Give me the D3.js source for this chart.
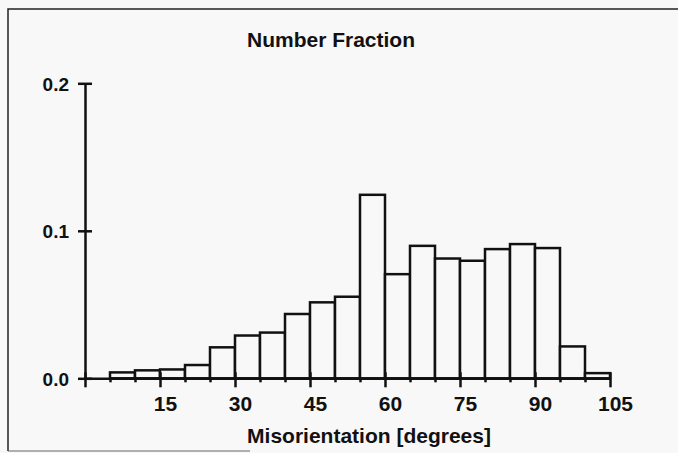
<!DOCTYPE html>
<html>
<head>
<meta charset="utf-8">
<script src="https://cdn.jsdelivr.net/npm/d3@7"></script>
<style>
  body { margin: 0; background: #f8f8f8; }
  text { font-family: "Liberation Sans", Arial, sans-serif; font-weight: bold; fill: #111; }
</style>
</head>
<body>
<div id="chart"></div>
<script>
// bin lower edges (degrees), each bin is 5 degrees wide
var binStarts = [0, 5, 10, 15, 20, 25, 30, 35, 40, 45, 50, 55, 60, 65, 70, 75, 80, 85, 90, 95, 100];
var binWidth = 5;
// number fraction per bin
var fractions = [0, 0.004, 0.0054, 0.006, 0.009, 0.021, 0.029, 0.031, 0.0436, 0.0515, 0.0553,
  0.1244, 0.0706, 0.0898, 0.0812, 0.0797, 0.0876, 0.091, 0.0883, 0.0216, 0.0035];
var xTicks = [0, 5, 10, 15, 20, 25, 30, 35, 40, 45, 50, 55, 60, 65, 70, 75, 80, 85, 90, 95, 100, 105];
var xLabels = [15, 30, 45, 60, 75, 90, 105];
var yTicks = [0, 0.1, 0.2];

var svg = d3.select("#chart").append("svg")
  .attr("width", 678)
  .attr("height", 453);

svg.append("rect")
  .attr("width", 678).attr("height", 453)
  .attr("fill", "#f8f8f8");

// frame round the picture
svg.append("path")
  .attr("d", "M8,451 L8,9 L678,9")
  .attr("fill", "none")
  .attr("stroke", "#222")
  .attr("stroke-width", 1.5);
svg.append("line")
  .attr("x1", 8).attr("x2", 250).attr("y1", 451).attr("y2", 451)
  .attr("stroke", "#666").attr("stroke-width", 1.2);

var x = d3.scaleLinear().domain([0, 105]).range([85, 610]);
var y = d3.scaleLinear().domain([0, 0.2]).range([378.3, 83.3]);

// bars
svg.append("g").selectAll("rect")
  .data(binStarts)
  .enter()
  .append("rect")
    .filter(function(d, i) { return fractions[i] > 0; })
    .attr("x", function(d) { return x(d); })
    .attr("width", function(d) { return x(d + binWidth) - x(d); })
    .attr("y", function(d, i) { return y(fractions[binStarts.indexOf(d)]); })
    .attr("height", function(d) { return y(0) - y(fractions[binStarts.indexOf(d)]); })
    .attr("fill", "#f8f8f8")
    .attr("stroke", "#111")
    .attr("stroke-width", 2.5);

// x axis
var xAxis = svg.append("g")
  .attr("transform", "translate(0," + y(0) + ")")
  .call(d3.axisBottom(x)
    .tickValues(xTicks)
    .tickSizeOuter(0)
    .tickFormat(function(d) { return xLabels.indexOf(d) >= 0 ? d : ""; }));
xAxis.select(".domain").attr("stroke", "#111").attr("stroke-width", 2.5);
xAxis.selectAll(".tick line")
  .attr("stroke", "#111")
  .attr("stroke-width", 2.5)
  .attr("y1", function(d) { return (xLabels.indexOf(d) >= 0 || d === 0) ? -6 : 0; })
  .attr("y2", function(d) { return (xLabels.indexOf(d) >= 0 || d === 0) ? 9 : 4; });
xAxis.selectAll(".tick text")
  .attr("y", 0)
  .attr("dy", 33)
  .attr("dx", 5)
  .style("font-size", "21px");

// y axis
var yAxis = svg.append("g")
  .attr("transform", "translate(" + x(0) + ",0)")
  .call(d3.axisLeft(y)
    .tickValues(yTicks)
    .tickSizeOuter(0)
    .tickFormat(d3.format(".1f")));
yAxis.select(".domain").attr("stroke", "#111").attr("stroke-width", 2.5);
yAxis.selectAll(".tick line")
  .attr("stroke", "#111")
  .attr("stroke-width", 2.5)
  .attr("x1", -7)
  .attr("x2", 7);
yAxis.selectAll(".tick text")
  .attr("x", -16)
  .attr("dy", "0.36em")
  .style("font-size", "19px");

// titles
svg.append("text")
  .attr("x", 331).attr("y", 46.5)
  .attr("text-anchor", "middle")
  .style("font-size", "21px")
  .text("Number Fraction");

svg.append("text")
  .attr("x", 369).attr("y", 443)
  .attr("text-anchor", "middle")
  .style("font-size", "21px")
  .text("Misorientation [degrees]");
</script>
</body>
</html>
